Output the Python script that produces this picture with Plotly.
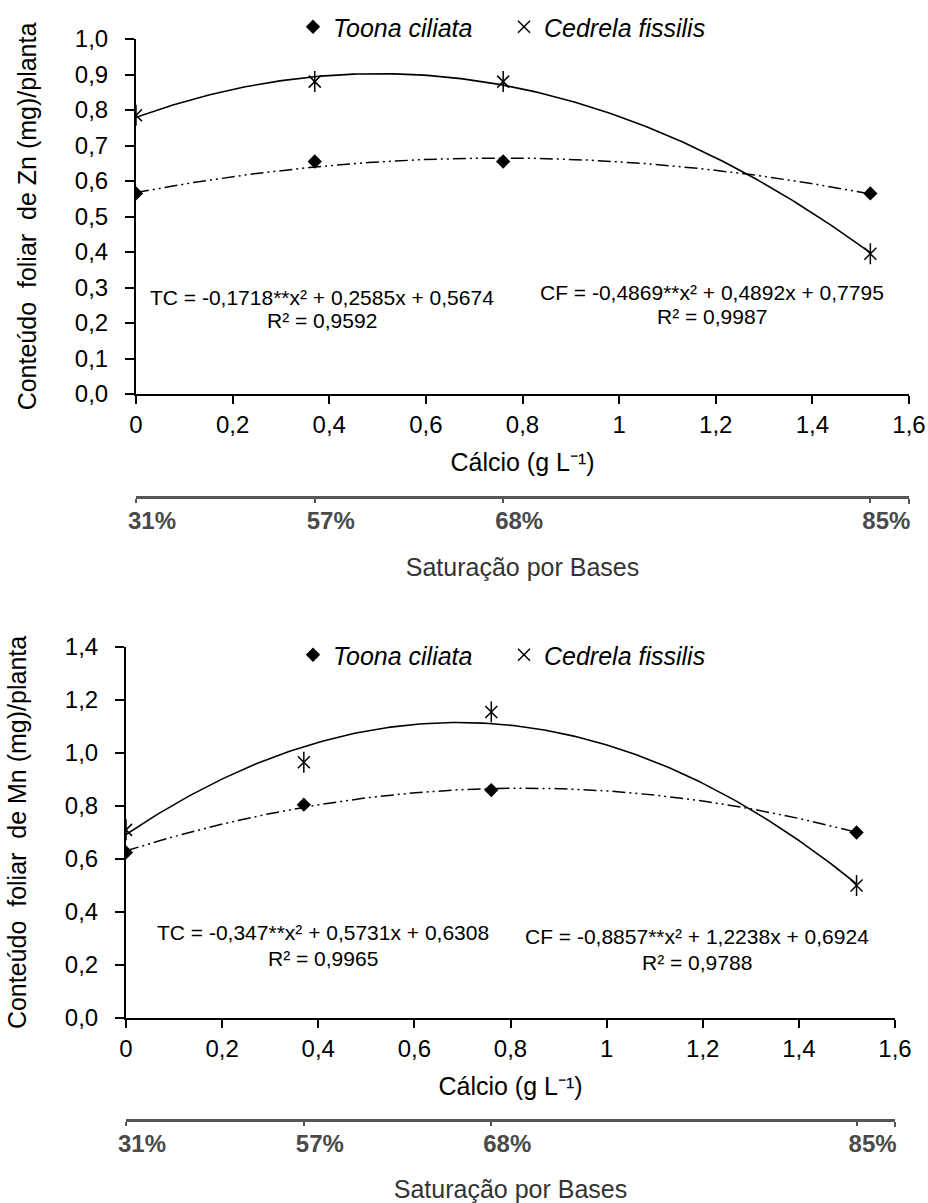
import numpy as np
import plotly.graph_objects as go

# Calcium doses (g/L) and corresponding base saturation levels
doses = [0, 0.37, 0.76, 1.52]
sat_labels = ["31%", "57%", "68%", "85%"]

# Leaf content (mg/plant)
zn_toona = [0.565, 0.655, 0.655, 0.565]
zn_cedrela = [0.785, 0.88, 0.88, 0.395]
mn_toona = [0.625, 0.805, 0.86, 0.70]
mn_cedrela = [0.71, 0.965, 1.155, 0.50]

# Quadratic regression coefficients [a, b, c] for y = a x^2 + b x + c, and R^2
zn_tc_coef = [-0.1718, 0.2585, 0.5674]
zn_cf_coef = [-0.4869, 0.4892, 0.7795]
mn_tc_coef = [-0.347, 0.5731, 0.6308]
mn_cf_coef = [-0.8857, 1.2238, 0.6924]
zn_tc_r2, zn_cf_r2 = 0.9592, 0.9987
mn_tc_r2, mn_cf_r2 = 0.9965, 0.9788

FONT = "Liberation Sans, Arial, sans-serif"
W, H = 928, 1203
NB = "\u00a0"


def dec(v):
    return str(v).replace(".", ",")


def eq_line(tag, coef):
    a, b, c = coef
    return f"{tag} = {dec(a)}**x² + {dec(b)}x + {dec(c)}"


def r2_line(r2):
    return f"R² = {dec(r2)}"


def fit_curve(coef):
    xs = np.linspace(doses[0], doses[-1], 200)
    a, b, c = coef
    return xs, a * xs ** 2 + b * xs + c


fig = go.Figure()


def add_panel(xa, ya, legend, toona, cedrela, tc_coef, cf_coef):
    xs, ys = fit_curve(tc_coef)
    fig.add_trace(go.Scatter(x=xs, y=ys, mode="lines", xaxis=xa, yaxis=ya,
                             line=dict(color="black", width=1.5,
                                       dash="13px,4px,2px,4px,2px,4px"),
                             showlegend=False, hoverinfo="skip"))
    xs, ys = fit_curve(cf_coef)
    fig.add_trace(go.Scatter(x=xs, y=ys, mode="lines", xaxis=xa, yaxis=ya,
                             line=dict(color="black", width=1.6),
                             showlegend=False, hoverinfo="skip"))
    fig.add_trace(go.Scatter(x=doses, y=toona, mode="markers", xaxis=xa, yaxis=ya,
                             name="Toona ciliata", legend=legend,
                             marker=dict(symbol="diamond", size=11, color="black")))
    fig.add_trace(go.Scatter(x=doses, y=cedrela, mode="markers", xaxis=xa, yaxis=ya,
                             name="Cedrela fissilis", legend=legend,
                             marker=dict(symbol="x-thin-open", size=12, color="black",
                                         line=dict(color="black", width=1.5))))
    fig.add_trace(go.Scatter(x=doses, y=cedrela, mode="markers", xaxis=xa, yaxis=ya,
                             showlegend=False, hoverinfo="skip",
                             marker=dict(symbol="line-ns-open", size=15, color="black",
                                         line=dict(color="black", width=1.5))))


add_panel("x", "y", "legend", zn_toona, zn_cedrela, zn_tc_coef, zn_cf_coef)
add_panel("x2", "y2", "legend2", mn_toona, mn_cedrela, mn_tc_coef, mn_cf_coef)

# carriers for the base-saturation axes
fig.add_trace(go.Scatter(x=doses, y=[None] * len(doses), xaxis="x3", yaxis="y",
                         showlegend=False, hoverinfo="skip", mode="markers"))
fig.add_trace(go.Scatter(x=doses, y=[None] * len(doses), xaxis="x4", yaxis="y2",
                         showlegend=False, hoverinfo="skip", mode="markers"))

tickfont = dict(family=FONT, size=24, color="black")
titlefont = dict(family=FONT, size=25, color="black")


def main_x(domain, anchor):
    return dict(domain=domain, anchor=anchor, range=[0, 1.6], dtick=0.2, tick0=0,
                showline=True, linecolor="black", linewidth=2,
                ticks="outside", ticklen=8, tickwidth=2, tickcolor="black",
                showgrid=False, zeroline=False, tickfont=tickfont,
                title=dict(text="Cálcio (g L⁻¹)", font=titlefont, standoff=17),
                automargin=False)


def main_y(domain, anchor, top, dtick, title):
    return dict(domain=domain, anchor=anchor, range=[0, top], dtick=dtick, tick0=0,
                tickformat=".1f", showline=True, linecolor="black", linewidth=2,
                ticks="outside", ticklen=9, tickwidth=2, tickcolor="black",
                showgrid=False, zeroline=False, tickfont=tickfont, ticklabelstandoff=12,
                title=dict(text=title, font=titlefont, standoff=31),
                automargin=False)


def sat_x(overlay, pos):
    return dict(overlaying=overlay, anchor="free", position=pos, range=[0, 1.6],
                tickmode="array", tickvals=doses, ticktext=sat_labels,
                showline=True, linecolor="#555555", linewidth=2.5,
                ticks="outside", ticklen=4, tickwidth=2, tickcolor="#555555",
                minor=dict(tickmode="array", tickvals=[1.6], ticks="outside", ticklen=5,
                           tickwidth=2, tickcolor="#555555", showgrid=False),
                showgrid=False, zeroline=False, ticklabelshift=16, ticklabelstandoff=-3,
                tickfont=dict(family=FONT, size=24, color="#4a4a4a", weight="bold"),
                title=dict(text="Saturação por Bases",
                           font=dict(family=FONT, size=25, color="#333333"), standoff=25),
                automargin=False)


top_dom = [1 - 394 / H, 1 - 39 / H]
bot_dom = [1 - 1018 / H, 1 - 647 / H]

legend_style = dict(orientation="h", x=293 / W, xanchor="left", yanchor="middle",
                    font=dict(family=FONT, size=25, style="italic", color="black"),
                    bgcolor="rgba(0,0,0,0)", entrywidth=166, entrywidthmode="pixels")

fig.update_layout(
    width=W, height=H,
    margin=dict(l=0, r=0, t=0, b=0),
    paper_bgcolor="white", plot_bgcolor="white",
    separators=",.",
    font=dict(family=FONT, color="black"),
    xaxis=main_x([136 / W, 909 / W], "y"),
    yaxis=main_y(top_dom, "x", 1.0, 0.1, f"Conteúdo{NB} foliar{NB} de Zn (mg)/planta"),
    xaxis2=main_x([126 / W, 895 / W], "y2"),
    yaxis2=main_y(bot_dom, "x2", 1.4, 0.2, f"Conteúdo{NB} foliar{NB} de Mn (mg)/planta"),
    xaxis3=sat_x("x", 1 - 497 / H),
    xaxis4=sat_x("x2", 1 - 1120 / H),
    legend=dict(legend_style, y=1 - 27 / H),
    legend2=dict(legend_style, y=1 - 655 / H),
    showlegend=True,
)

# regression equations: (axes, x centre, y of equation line, y of R² line)
ann_font = dict(family=FONT, size=21, color="black")
for xr, yr, x, y1, y2, tag, coef, r2 in [
    ("x", "y", 0.386, 0.273, 0.206, "TC", zn_tc_coef, zn_tc_r2),
    ("x", "y", 1.192, 0.285, 0.217, "CF", zn_cf_coef, zn_cf_r2),
    ("x2", "y2", 0.41, 0.321, 0.226, "TC", mn_tc_coef, mn_tc_r2),
    ("x2", "y2", 1.188, 0.306, 0.211, "CF", mn_cf_coef, mn_cf_r2),
]:
    fig.add_annotation(x=x, y=y1, xref=xr, yref=yr, text=eq_line(tag, coef),
                       showarrow=False, font=ann_font, xanchor="center", yanchor="middle")
    fig.add_annotation(x=x, y=y2, xref=xr, yref=yr, text=r2_line(r2),
                       showarrow=False, font=ann_font, xanchor="center", yanchor="middle")

fig.write_html("out.html")
